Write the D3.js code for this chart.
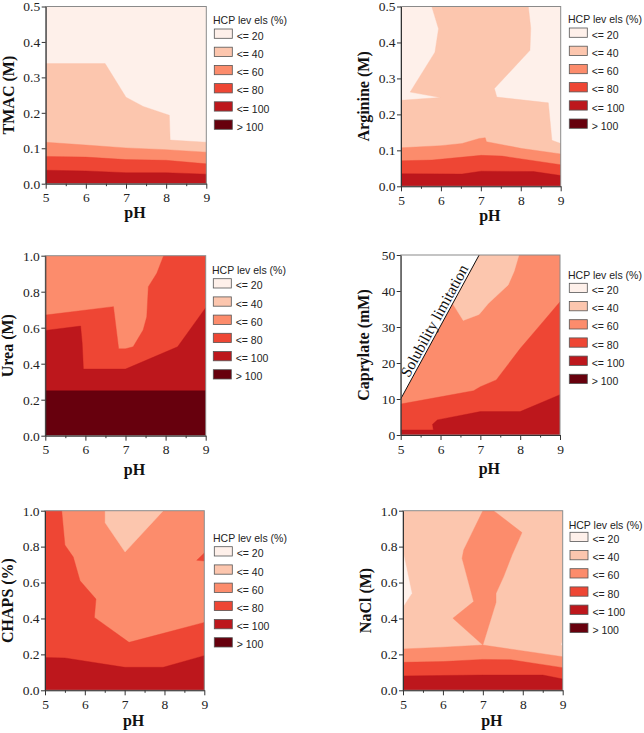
<!DOCTYPE html>
<html><head><meta charset="utf-8">
<script src="https://cdn.jsdelivr.net/npm/d3@7"></script>
<style>body{margin:0;background:#fff}</style>
</head><body><svg id="c" width="644" height="733"></svg>
<script>
// ---------- shared categories ----------
const levelLabels = ["<= 20", "<= 40", "<= 60", "<= 80", "<= 100", "> 100"];
const levelColors = ["#fef0ea", "#fcc6ae", "#fc8c6c", "#ee4634", "#bd171c", "#67000d"];
const legendTitle = "HCP lev els (%)";
const phTicks = [5, 6, 7, 8, 9];
const phMinor = [5.5, 6.5, 7.5, 8.5];

// ---------- TMAC (M) ----------
const tmacTicks = [0, 0.1, 0.2, 0.3, 0.4, 0.5];
const tmac40 = [[5,0.339],[6.48,0.339],[7.0,0.244],[7.43,0.218],[8.08,0.193],[8.1,0.123],[9,0.117]];
const tmac60 = [[5,0.117],[6,0.109],[7,0.101],[8,0.096],[9,0.089]];
const tmac80 = [[5,0.077],[6,0.075],[7,0.068],[8,0.066],[9,0.056]];
const tmac100 = [[5,0.038],[6,0.036],[7,0.031],[8,0.031],[9,0.027]];

// ---------- Arginine (M) ----------
const argTicks = [0, 0.1, 0.2, 0.3, 0.4, 0.5];
const arg40 = [[5,0],[5,0.239],[5.98,0.247],[5.23,0.262],[5.85,0.373],[5.94,0.438],[5.77,0.5],
  [8.19,0.5],[8.25,0.44],[8.23,0.378],[7.34,0.272],[7.4,0.248],[8.69,0.232],[8.78,0.128],[9,0.119],[9,0]];
const arg60 = [[5,0.107],[6,0.113],[6.53,0.119],[6.96,0.133],[7.11,0.135],[7.14,0.124],[8.03,0.105],[9,0.09]];
const arg80 = [[5,0.071],[5.78,0.073],[7.01,0.086],[7.53,0.084],[9,0.06]];
const arg100 = [[5,0.035],[6.53,0.034],[7.01,0.042],[8.32,0.041],[9,0.03]];

// ---------- Urea (M) ----------
const ureaTicks = [0, 0.2, 0.4, 0.6, 0.8, 1.0];
const urea80 = [[5,0],[5,0.67],[6.7,0.717],[6.83,0.483],[7.0,0.483],[7.19,0.494],[7.44,0.587],
  [7.53,0.661],[7.57,0.828],[7.78,0.902],[7.95,1.0],[9,1.0],[9,0]];
const urea100 = [[5,0],[5,0.585],[5.88,0.609],[5.92,0.513],[5.95,0.37],[7.0,0.37],[8.3,0.494],[9,0.711],[9,0]];
const ureaTop = [[5,0.25],[9,0.25]];

// ---------- Caprylate (mM) ----------
const capTicks = [0, 10, 20, 30, 40, 50];
const capSolubility = [[5,10],[6.97,50]];
const capFeasible = [[5,0],[5,10],[6.97,50],[9,50],[9,0]];
const cap40 = [[6.25,37.5],[6.57,31.8],[6.97,33.5],[7.2,36.5],[7.7,41.7],[7.85,45.5],[7.97,50],[6.5,50]];
const cap80 = [[5,8.6],[6,10.6],[6.83,12.3],[7.0,13.4],[7.4,15.3],[8.0,24],[8.5,30.5],[9,37]];
const cap100 = [[5,1.4],[5.82,1.4],[5.8,3.0],[5.92,4.2],[7.0,6.5],[8.0,6.5],[9,11.2]];

// ---------- CHAPS (%) ----------
const chapsTicks = [0, 0.2, 0.4, 0.6, 0.8, 1.0];
const chaps40 = [[6.51,1.0],[6.51,0.933],[7.01,0.77],[7.97,1.0]];
const chaps80 = [[5,0],[5,1],[5.42,1],[5.5,0.809],[5.71,0.742],[5.88,0.61],[6.28,0.508],[6.24,0.406],
  [7.11,0.267],[7.97,0.317],[9,0.378],[9,0]];
const chaps80b = [[8.81,0.724],[9,0.765],[9,0.72]];
const chaps100 = [[5,0.182],[5.5,0.18],[7,0.128],[7.97,0.128],[9,0.193]];

// ---------- NaCl (M) ----------
const naclTicks = [0, 0.2, 0.4, 0.6, 0.8, 1.0];
const nacl20 = [[5,0.772],[5.22,0.54],[5,0.465]];
const nacl20b = [[8.97,0.257],[9,0.272],[9,0.245]];
const nacl60 = [[7.0,1.0],[6.52,0.781],[6.48,0.735],[6.77,0.494],[6.25,0.401],[7.0,0.252],[7.33,0.49],
  [7.33,0.54],[7.52,0.633],[7.73,0.753],[7.98,0.878],[7.27,1.0]];
const nacl60b = [[5,0.23],[6,0.24],[7,0.252],[9,0.187]];
const nacl80 = [[5,0.156],[6,0.16],[7,0.172],[7.7,0.17],[9,0.126]];
const nacl100 = [[5,0.08],[7,0.085],[8.5,0.085],[9,0.063]];

// helper: close a boundary curve down to the bottom of the plot
const under = (c, y0) => [[c[0][0], y0], ...c, [c[c.length-1][0], y0]];

const panels = [
  {title:"TMAC (M)", box:[45.7,206.3,6.5,183.7], yMax:0.5, yTicks:tmacTicks, fmt:d3.format(".1f"), base:0, phDy:34,
   regions:[[1,under(tmac40,0)],[2,under(tmac60,0)],[3,under(tmac80,0)],[4,under(tmac100,0)]], leg:[6.7,13.5,22.5]},
  {title:"Arginine (M)", box:[401,560.7,6.5,186.3], yMax:0.5, yTicks:argTicks, fmt:d3.format(".1f"), base:0, phDy:35,
   regions:[[1,arg40],[2,under(arg60,0)],[3,under(arg80,0)],[4,under(arg100,0)]], leg:[7.3,12,21.5]},
  {title:"Urea (M)", box:[45.3,205.7,255.7,435.7], yMax:1, yTicks:ureaTicks, fmt:d3.format(".1f"), base:2, phDy:39,
   regions:[[3,urea80],[4,urea100],[5,under(ureaTop,0)]], leg:[6.3,14,23]},
  {title:"Caprylate (mM)", box:[400.7,560,255,435], yMax:50, yTicks:capTicks, fmt:d3.format("d"), base:2, phDy:39,
   feasible:capFeasible, solubility:capSolubility,
   regions:[[1,cap40],[3,under(cap80,0)],[4,under(cap100,0)]], leg:[8,20,28.3]},
  {title:"CHAPS (%)", box:[45,204.3,510.7,690.3], yMax:1, yTicks:chapsTicks, fmt:d3.format(".1f"), base:2, phDy:36,
   regions:[[1,chaps40],[3,chaps80],[3,chaps80b],[4,under(chaps100,0)]], leg:[8.7,27,36]},
  {title:"NaCl (M)", box:[403,562.7,510.7,690.3], yMax:1, yTicks:naclTicks, fmt:d3.format(".1f"), base:1, phDy:36,
   regions:[[0,nacl20],[0,nacl20b],[2,nacl60],[2,under(nacl60b,0)],[3,under(nacl80,0)],[4,under(nacl100,0)]], leg:[6,14.5,21.6]}
];

const svg = d3.select("#c");
svg.append("rect").attr("width",644).attr("height",733).attr("fill","#fff");
const serif = "'Liberation Serif','Times New Roman',serif";
const sans = "'Liberation Sans',Arial,sans-serif";

panels.forEach((p, i) => {
  const [x0, x1, y0, y1] = p.box;
  const x = d3.scaleLinear().domain([5, 9]).range([x0, x1]);
  const y = d3.scaleLinear().domain([0, p.yMax]).range([y1, y0]);
  const line = d3.line().x(d => x(d[0])).y(d => y(d[1]));
  const g = svg.append("g");
  const cid = "clip" + i;
  const cp = g.append("clipPath").attr("id", cid);
  if (p.feasible) cp.append("path").attr("d", line(p.feasible) + "Z");
  else cp.append("rect").attr("x", x0).attr("y", y0).attr("width", x1 - x0).attr("height", y1 - y0);

  const plot = g.append("g").attr("clip-path", `url(#${cid})`);
  plot.append("rect").attr("x", x0).attr("y", y0).attr("width", x1 - x0).attr("height", y1 - y0)
    .attr("fill", levelColors[p.base]);
  plot.selectAll("path.reg").data(p.regions).join("path").attr("class","reg")
    .attr("d", d => line(d[1]) + "Z")
    .attr("fill", d => levelColors[d[0]])
    .attr("stroke", d => levelColors[d[0]]).attr("stroke-width", 0.4);

  if (p.solubility) {
    g.append("path").attr("d", line(p.solubility)).attr("stroke", "#111").attr("stroke-width", 1).attr("fill","none");
    const [a, b] = p.solubility;
    const px0 = x(a[0]), py0 = y(a[1]), px1 = x(b[0]), py1 = y(b[1]);
    const ang = Math.atan2(py1 - py0, px1 - px0) * 180 / Math.PI;
    const mx = (px0 + px1) / 2 + 2, my = (py0 + py1) / 2 - 2;
    g.append("text").attr("transform", `translate(${mx},${my}) rotate(${ang})`)
      .attr("text-anchor", "middle").attr("dy", -3.5)
      .attr("font-family", serif).attr("font-size", 15.5).attr("fill", "#111")
      .text("Solubility limitation");
  }

  // frame
  g.append("rect").attr("x", x0).attr("y", y0).attr("width", x1 - x0).attr("height", y1 - y0)
    .attr("fill", "none").attr("stroke", "#8a8a8a").attr("stroke-width", 1);

  // axes
  const xa = g.append("g").attr("transform", `translate(0,${y1})`)
    .call(d3.axisBottom(x).tickValues(phTicks).tickFormat(d3.format("d")).tickSize(5).tickSizeOuter(0).tickPadding(4));
  g.append("g").attr("transform", `translate(0,${y1})`)
    .call(d3.axisBottom(x).tickValues(phMinor).tickSize(2.5).tickSizeOuter(0).tickFormat(""))
    .call(s => s.select(".domain").remove());
  const ya = g.append("g").attr("transform", `translate(${x0},0)`)
    .call(d3.axisLeft(y).tickValues(p.yTicks).tickFormat(p.fmt).tickSize(4).tickSizeOuter(0).tickPadding(1.5));
  g.selectAll(".domain").attr("stroke", "#333");
  g.selectAll(".tick line").attr("stroke", "#333");
  [xa, ya].forEach(a => a.selectAll("text").attr("font-family", serif).attr("font-size", 13.5).attr("fill", "#222"));

  // axis titles
  g.append("text").attr("x", (x0 + x1) / 2 + 9).attr("y", y1 + p.phDy).attr("text-anchor", "middle")
    .attr("font-family", serif).attr("font-weight", "bold").attr("font-size", 16).attr("fill","#111").text("pH");
  g.append("text").attr("transform", `translate(${x0 - 32},${(y0 + y1) / 2}) rotate(-90)`)
    .attr("text-anchor", "middle").attr("font-family", serif).attr("font-weight", "bold")
    .attr("font-size", 16).attr("fill","#111").text(p.title);

  // legend
  const [lx, ty, sy] = p.leg;
  const lg = g.append("g").attr("transform", `translate(${x1 + lx},${y0})`);
  lg.append("text").attr("x", 0).attr("y", ty + 4).attr("font-family", sans).attr("font-size", 10.5)
    .attr("fill", "#222").text(legendTitle);
  const rows = lg.selectAll("g.row").data(levelLabels).join("g").attr("class","row")
    .attr("transform", (d, k) => `translate(1.3,${sy + k * 18.2})`);
  rows.append("rect").attr("width", 18).attr("height", 9.3)
    .attr("fill", (d, k) => levelColors[k]).attr("stroke", "#555").attr("stroke-width", 0.8);
  rows.append("text").attr("x", 22.4).attr("y", 10.8).attr("font-family", sans).attr("font-size", 10.5)
    .attr("fill", "#222").text(d => d);
});
</script>
</body></html>
